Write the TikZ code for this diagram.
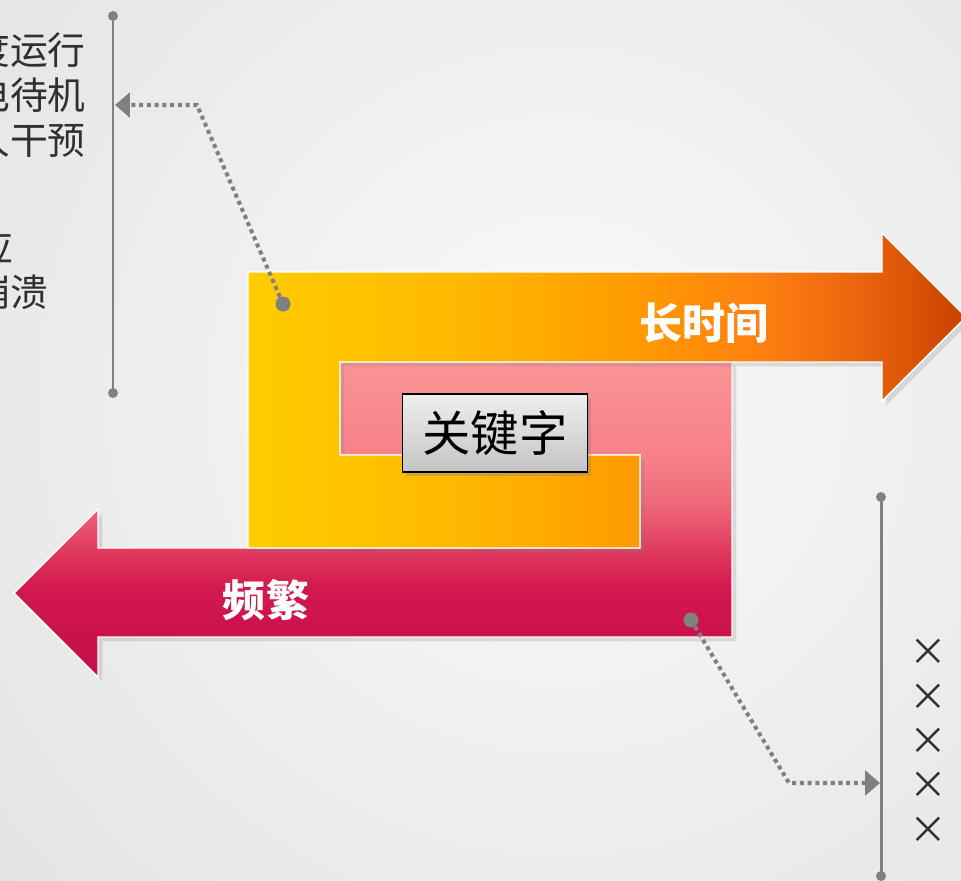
\documentclass[tikz,border=0pt]{standalone}
\usepackage{fontspec}
\newfontfamily\cjk{Noto Sans CJK SC}
\usetikzlibrary{arrows.meta,shadows}

\definecolor{lineGray}{HTML}{808080}
\definecolor{noteGray}{HTML}{303030}
\definecolor{bgEdge}{HTML}{E3E3E3}
\definecolor{bgMid}{HTML}{FAFAFA}
\definecolor{yA}{HTML}{FFCC00}
\definecolor{yB}{HTML}{FFB800}
\definecolor{yC}{HTML}{FF9A00}
\definecolor{yD}{HTML}{FF8210}
\definecolor{yE}{HTML}{F06A10}
\definecolor{yF}{HTML}{DC5508}
\definecolor{yG}{HTML}{C84000}
\definecolor{pA}{HTML}{F99494}
\definecolor{pB}{HTML}{F8808A}
\definecolor{pC}{HTML}{EF6A7A}
\definecolor{pD}{HTML}{E03A5E}
\definecolor{pE}{HTML}{D2184F}
\definecolor{pF}{HTML}{C9114B}
\definecolor{pG}{HTML}{C40F48}
\definecolor{keyHi}{HTML}{EFEFEF}
\definecolor{keyLo}{HTML}{C4C4C4}

% left to right: 25bp = left edge, 75bp = tip
\pgfdeclarehorizontalshading{yellowband}{100bp}{color(0bp)=(yA); color(25bp)=(yA);
  color(40bp)=(yB); color(52bp)=(yC); color(60bp)=(yD); color(66bp)=(yE);
  color(71bp)=(yF); color(75bp)=(yG); color(100bp)=(yG)}
% bottom to top
\pgfdeclareverticalshading{pinkband}{100bp}{color(0bp)=(pG); color(25bp)=(pG);
  color(31bp)=(pF); color(39bp)=(pE); color(45bp)=(pD); color(53bp)=(pC);
  color(60bp)=(pB); color(75bp)=(pA); color(100bp)=(pA)}
\pgfdeclareverticalshading{keyfill}{100bp}{color(0bp)=(keyLo); color(25bp)=(keyLo);
  color(75bp)=(keyHi); color(100bp)=(keyHi)}

\tikzset{
  band/.style={draw=white, line width=0.8pt,
    drop shadow={opacity=0.22, shadow xshift=2.5pt, shadow yshift=-2.5pt}},
  guide/.style={lineGray, line width=1.7pt},
  conn/.style={lineGray, line width=2.3pt, dash pattern=on 2.3pt off 2.1pt,
    -{Triangle[length=8.5pt,width=14pt]}},
  note/.style={font=\cjk\fontsize{21.5pt}{26pt}\selectfont, text=noteGray, inner sep=0pt},
  bandtext/.style={font=\cjk\bfseries\fontsize{24.5pt}{28pt}\selectfont, text=white, inner sep=0pt},
  keybox/.style={shading=keyfill, draw=black, line width=1.1pt,
    minimum width=3.7cm, minimum height=1.56cm, inner sep=0pt,
    font=\cjk\fontsize{27.5pt}{30pt}\selectfont,
    drop shadow={opacity=0.35, shadow xshift=2pt, shadow yshift=-2.5pt}}
}

\begin{document}
\begin{tikzpicture}[x=0.02cm,y=-0.02cm]
\useasboundingbox (0,0) rectangle (961,880);
\begin{scope}
\clip (0,0) rectangle (961,880);
% background
\fill[bgEdge] (0,0) rectangle (961,880);
\shade[inner color=bgMid, outer color=bgEdge] (560,400) circle (15.5cm);

% pink arrow (left)
\shade[band, shading=pinkband] (340,362) -- (732,362) -- (732,637) -- (98,637) -- (98,677)
  -- (14,593) -- (98,509) -- (98,548) -- (640,548) -- (640,455) -- (340,455) -- cycle;
% yellow arrow (right)
\shade[band, shading=yellowband] (248,272) -- (882,272) -- (882,233) -- (966,317) -- (882,401)
  -- (882,362) -- (340,362) -- (340,455) -- (640,455) -- (640,548) -- (248,548) -- cycle;

\node[bandtext] (longtime) at (704,323) {长时间};
\node[bandtext] (often) at (266,600) {频繁};
\node[keybox] (key) at (495,433) {关键字};

% left notes
\coordinate (ltop) at (113,16);
\coordinate (lbot) at (113,393);
\draw[guide] (ltop) -- (lbot);
\fill[lineGray] (ltop) circle (0.1cm) (lbot) circle (0.1cm);
\node[note, anchor=east] (n1) at (86,50) {高强度运行};
\node[note, anchor=east] (n2) at (86,95) {不断电待机};
\node[note, anchor=east] (n3) at (86,140) {无需人干预};
\node[note, anchor=east] (n4) at (14,247) {及时响应};
\node[note, anchor=east] (n5) at (49,292) {不会崩溃};

% right notes
\coordinate (rtop) at (881,497);
\coordinate (rbot) at (881,876);
\draw[guide] (rtop) -- (rbot);
\fill[lineGray] (rtop) circle (0.1cm) (rbot) circle (0.1cm);
\foreach \y/\n in {652/x1,697/x2,741/x3,785/x4,830/x5}
  \node[note] (\n) at (928,\y) {×};

% connectors
\coordinate (ydot) at (283,304);
\coordinate (ybend) at (197,105);
\coordinate (lhit) at (115,105);
\draw[conn] (ydot) -- (ybend) -- (lhit);
\fill[lineGray] (ydot) circle (0.15cm);
\coordinate (pdot) at (691,620);
\coordinate (pbend) at (789,783);
\coordinate (rhit) at (880,783);
\draw[conn] (pdot) -- (pbend) -- (rhit);
\fill[lineGray] (pdot) circle (0.15cm);
\end{scope}
\end{tikzpicture}
\end{document}
